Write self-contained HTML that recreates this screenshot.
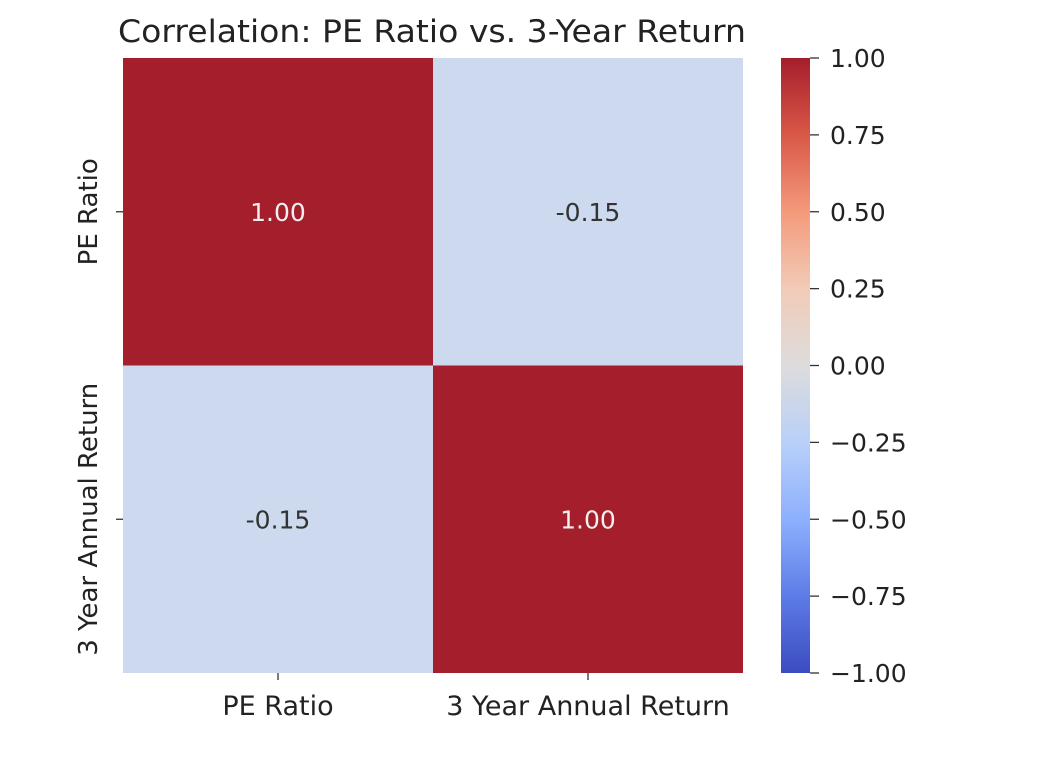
<!DOCTYPE html>
<html><head><meta charset="utf-8"><style>
body{margin:0;background:#fff;}
svg text{font-family:"DejaVu Sans","Liberation Sans",sans-serif;}
</style></head><body>
<svg id="chart" width="1042" height="756" xmlns="http://www.w3.org/2000/svg">
<defs>
<linearGradient id="cw" x1="0" y1="1" x2="0" y2="0">
<stop offset="0" stop-color="#3b4cc0"/>
<stop offset="0.125" stop-color="#5d7ce6"/>
<stop offset="0.25" stop-color="#8db0fe"/>
<stop offset="0.375" stop-color="#b9d0f9"/>
<stop offset="0.5" stop-color="#dddcdc"/>
<stop offset="0.625" stop-color="#f2cbb7"/>
<stop offset="0.75" stop-color="#f49a7b"/>
<stop offset="0.875" stop-color="#d95847"/>
<stop offset="1" stop-color="#a41e2b"/>
</linearGradient>
</defs>
<text x="432" y="42" text-anchor="middle" font-size="31" textLength="628" lengthAdjust="spacingAndGlyphs" fill="#222">Correlation: PE Ratio vs. 3-Year Return</text>
<g id="cells"></g>
<g id="axes"></g>
<rect x="781" y="58" width="29" height="615" fill="url(#cw)"/>
<g id="cbticks"></g>
</svg>
<script>
const labels = ["PE Ratio", "3 Year Annual Return"];
const matrix = [[1.00, -0.15], [-0.15, 1.00]];
const cbTicks = [1.00, 0.75, 0.50, 0.25, 0.00, -0.25, -0.50, -0.75, -1.00];

const svg = document.getElementById('chart');
const NS = 'http://www.w3.org/2000/svg';
const L = 123, T = 58, W = 620, H = 615;
const n = labels.length;
const cw = W / n, ch = H / n;
const stops = [[-1,[59,76,192]],[-0.75,[93,124,230]],[-0.5,[141,176,254]],[-0.25,[196,213,243]],[-0.125,[206,218,237]],[0,[221,220,220]],[0.25,[242,203,183]],[0.5,[244,154,123]],[0.75,[217,88,71]],[1,[164,30,43]]];
function color(v){
  for(let i=0;i<stops.length-1;i++){
    const [a,ca]=stops[i],[b,cb]=stops[i+1];
    if(v>=a&&v<=b){const t=(v-a)/(b-a);return 'rgb('+ca.map((c,k)=>Math.round(c+(cb[k]-c)*t)).join(',')+')';}
  }
  return 'rgb(164,30,43)';
}
function mk(tag, attrs, parent){const e=document.createElementNS(NS,tag);for(const k in attrs)e.setAttribute(k,attrs[k]);parent.appendChild(e);return e;}
const cells=document.getElementById('cells'), axes=document.getElementById('axes'), cb=document.getElementById('cbticks');
for(let r=0;r<n;r++)for(let c=0;c<n;c++){
  const v=matrix[r][c];
  const rect=mk('rect',{x:L+c*cw,y:T+r*ch,width:cw,height:ch,fill:color(v)},cells);
  
  
  const t=mk('text',{x:L+(c+0.5)*cw,y:T+(r+0.5)*ch+9,'text-anchor':'middle','font-size':25,fill:Math.abs(v)>0.5?'#f0f0f0':'#333'},cells);
  t.textContent=v.toFixed(2);
  
  
}
labels.forEach((lab,i)=>{
  const x=L+(i+0.5)*cw, y=T+(i+0.5)*ch;
  mk('line',{x1:x,y1:T+H,x2:x,y2:T+H+7,stroke:'#333','stroke-width':1.3},axes);
  const tx=mk('text',{x:x,y:715,'text-anchor':'middle','font-size':27,fill:'#222'},axes);
  tx.textContent=lab;
  
  
  mk('line',{x1:L-7,y1:y,x2:L,y2:y,stroke:'#333','stroke-width':1.3},axes);
  const ty=mk('text',{x:0,y:0,'text-anchor':'middle','font-size':26,fill:'#222',transform:'translate(97,'+y+') rotate(-90)'},axes);
  ty.textContent=lab;
  
  
});
cbTicks.forEach(v=>{
  const y=T+(1-v)/2*H;
  mk('line',{x1:810,y1:y,x2:819,y2:y,stroke:'#333','stroke-width':1.3},cb);
  const t=mk('text',{x:830,y:y+9,'font-size':25,fill:'#222'},cb);
  t.textContent=(v<0?'\u2212'+Math.abs(v).toFixed(2):v.toFixed(2));
  
  
});
</script>
</body></html>
